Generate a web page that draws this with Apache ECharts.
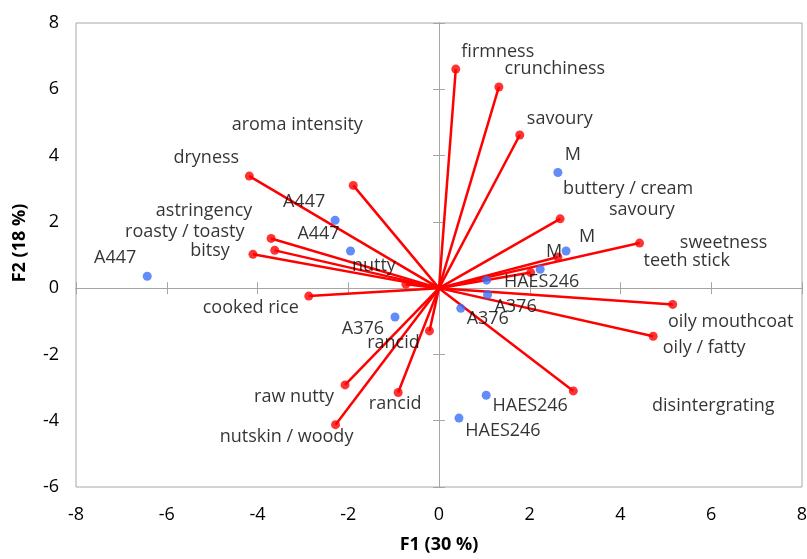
<!DOCTYPE html>
<html>
<head>
<meta charset="utf-8">
<script src="https://cdn.jsdelivr.net/npm/echarts@6/dist/echarts.min.js"></script>
<style>
  html, body { margin: 0; padding: 0; background: #fff; }
  #chart { width: 807px; height: 559px; }
</style>
</head>
<body>
<div id="chart"></div>
<script>
// Variable loadings (red vectors from the origin)
const varNames = ['firmness', 'crunchiness', 'savoury', 'buttery / cream', 'savoury',
  'sweetness', 'teeth stick', 'oily mouthcoat', 'oily / fatty', 'disintergrating',
  'rancid', 'nutskin / woody', 'raw nutty', 'rancid', 'cooked rice', 'nutty',
  'bitsy', 'roasty / toasty', 'astringency', 'dryness', 'aroma intensity'];
const varX = [0.37, 1.32, 1.78, 2.67, 2.62, 4.42, 2.02, 5.15, 4.72, 2.96,
  -0.90, -2.28, -2.07, -0.21, -2.87, -0.73, -4.10, -3.62, -3.70, -4.18, -1.89];
const varY = [6.61, 6.07, 4.62, 2.09, 0.94, 1.36, 0.47, -0.49, -1.45, -3.10,
  -3.15, -4.12, -2.92, -1.29, -0.24, 0.12, 1.02, 1.14, 1.50, 3.38, 3.10];

// Observation scores (blue points)
const obsNames = ['A447', 'A447', 'A447', 'M', 'M', 'M', 'HAES246',
  'A376', 'A376', 'A376', 'HAES246', 'HAES246'];
const obsX = [-2.29, -1.95, -6.43, 2.62, 2.80, 2.23, 1.05, 1.07, 0.48, -0.97, 1.04, 0.44];
const obsY = [2.05, 1.12, 0.36, 3.49, 1.12, 0.57, 0.24, -0.20, -0.61, -0.87, -3.23, -3.92];

// Axis ranges and tick step
const xRange = [-8, 8];
const yRange = [-6, 8];
const tickStep = 2;
const xTitle = 'F1 (30 %)';
const yTitle = 'F2 (18 %)';

// Label offsets (pixels, from each marker's centre)
const varLabelOffsets = [[42, -17], [56, -18], [40, -16], [68, -30], [84, -47],
  [84, 0], [156, -12], [58, 17], [51, 12], [140, 15],
  [-3, 11], [-49, 12], [-51, 12], [-36, 12], [-58, 12], [-32, -18],
  [-43, -3], [-90, -18], [-67, -28], [-43, -18], [-56, -61]];
const obsLabelOffsets = [[-31, -18], [-32, -17], [-32, -18], [15, -18], [21, -14], [14, -17],
  [55, 2], [28, 12], [27, 11], [-32, 12], [44, 11], [44, 13]];

const FONT = 'Open Sans';
const TEXT = '#000000';
const GRAY = '#a6a6a6';
const RED = '#ff0000';
const BLUE = '#3a6ff7';

const chart = echarts.init(document.getElementById('chart'), null, { renderer: 'canvas' });

function valueAxis(range, extra) {
  return Object.assign({
    type: 'value', min: range[0], max: range[1], interval: tickStep,
    splitLine: { show: false }
  }, extra);
}

const labelBase = {
  show: true, position: 'inside', align: 'center', verticalAlign: 'middle',
  color: TEXT, fontFamily: FONT, fontSize: 18, formatter: p => p.name
};

chart.setOption({
  animation: false,
  grid: {
    left: 76, right: 5, top: 23, bottom: 72,
    show: true, borderColor: GRAY, borderWidth: 1,
    containLabel: false, outerBoundsMode: 'none'
  },
  xAxis: [
    valueAxis(xRange, {
      position: 'bottom',
      axisLine: { show: false, onZero: false },
      axisTick: { show: false },
      axisLabel: { color: TEXT, fontFamily: FONT, fontSize: 18, margin: 19, showMinLabel: true, showMaxLabel: true },
      name: xTitle, nameLocation: 'middle', nameGap: 49,
      nameTextStyle: { color: TEXT, fontFamily: FONT, fontSize: 18, fontWeight: 'bold' }
    }),
    valueAxis(xRange, {
      position: 'bottom',
      axisLine: { show: true, onZero: true, onZeroAxisIndex: 0, lineStyle: { color: GRAY, width: 1 } },
      axisTick: { show: true, inside: false, length: 6, lineStyle: { color: GRAY } },
      axisLabel: { show: false }
    }),
    valueAxis(xRange, {
      position: 'bottom',
      axisLine: { show: true, onZero: true, onZeroAxisIndex: 0, lineStyle: { color: GRAY, width: 1 } },
      axisTick: { show: true, inside: true, length: 6, lineStyle: { color: GRAY } },
      axisLabel: { show: false }
    })
  ],
  yAxis: [
    valueAxis(yRange, {
      position: 'left',
      axisLine: { show: false, onZero: false },
      axisTick: { show: false },
      axisLabel: { color: TEXT, fontFamily: FONT, fontSize: 18, margin: 17, showMinLabel: true, showMaxLabel: true },
      name: yTitle, nameLocation: 'middle', nameGap: 47, nameRotate: 90,
      nameTextStyle: { color: TEXT, fontFamily: FONT, fontSize: 18, fontWeight: 'bold', padding: [0, 0, 0, 24] }
    }),
    valueAxis(yRange, {
      position: 'left',
      axisLine: { show: true, onZero: true, onZeroAxisIndex: 0, lineStyle: { color: GRAY, width: 1 } },
      axisTick: { show: true, inside: false, length: 6, lineStyle: { color: GRAY } },
      axisLabel: { show: false }
    }),
    valueAxis(yRange, {
      position: 'left',
      axisLine: { show: true, onZero: true, onZeroAxisIndex: 0, lineStyle: { color: GRAY, width: 1 } },
      axisTick: { show: true, inside: true, length: 6, lineStyle: { color: GRAY } },
      axisLabel: { show: false }
    })
  ],
  series: [
    {
      type: 'lines',
      coordinateSystem: 'cartesian2d',
      xAxisIndex: 0, yAxisIndex: 0,
      silent: true,
      lineStyle: { color: RED, width: 2.5, opacity: 1 },
      data: varX.map((x, i) => ({ coords: [[0, 0], [x, varY[i]]] }))
    },
    {
      type: 'scatter',
      xAxisIndex: 0, yAxisIndex: 0,
      symbol: 'circle', symbolSize: 9,
      itemStyle: { color: RED },
      label: labelBase,
      data: varX.map((x, i) => ({
        name: varNames[i], value: [x, varY[i]],
        label: { offset: varLabelOffsets[i] }
      }))
    },
    {
      type: 'scatter',
      xAxisIndex: 0, yAxisIndex: 0,
      symbol: 'circle', symbolSize: 9,
      itemStyle: { color: BLUE },
      label: labelBase,
      data: obsX.map((x, i) => ({
        name: obsNames[i], value: [x, obsY[i]],
        label: { offset: obsLabelOffsets[i] }
      }))
    }
  ]
});
</script>
</body>
</html>
